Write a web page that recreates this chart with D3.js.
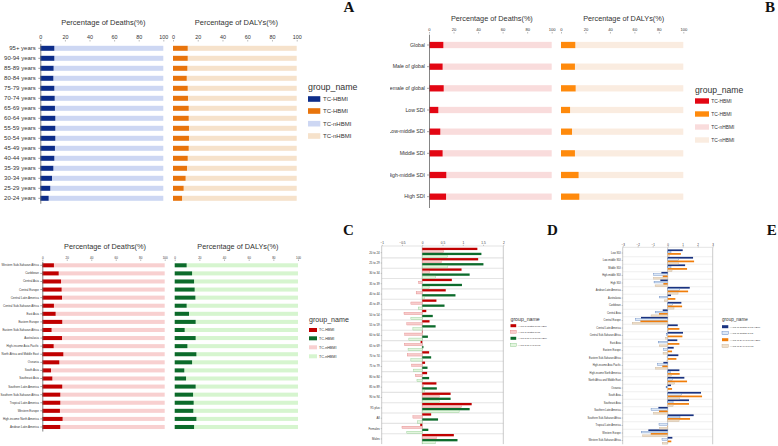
<!DOCTYPE html>
<html><head><meta charset="utf-8">
<script src="https://cdn.jsdelivr.net/npm/d3@7"></script>
<style>
body{margin:0;background:#fff}
svg{display:block}
text{font-family:"Liberation Sans",Arial,sans-serif;fill:#333}
</style>
</head><body>
<svg id="c" width="778" height="446"></svg>
<script>
// ---------- DATA ----------
const pctTicks = [0, 20, 40, 60, 80, 100];
const legendLabels = ["TC-HBMI", "TC-HBMI", "TC-nHBMI", "TC-nHBMI"];

// Panel A: age groups
const ageA = ["95+ years","90-94 years","85-89 years","80-84 years","75-79 years","70-74 years","65-69 years","60-64 years","55-59 years","50-54 years","45-49 years","40-44 years","35-39 years","30-34 years","25-29 years","20-24 years"];
const deathsHBMI_A = [11.4,11.4,10.8,10.6,11.4,11.7,11.9,12.2,12.2,12.2,11.9,11.4,10.6,9.5,8.1,6.8];
const dalysHBMI_A  = [11.9,11.9,11.6,11.1,11.9,12.1,12.7,12.7,12.9,12.9,12.7,11.9,11.3,10.2,8.6,7.3];

// Panel B: global / SDI
const groupsB = ["Global","Male of global","Female of global","Low SDI","Low-middle SDI","Middle SDI","High-middle SDI","High SDI"];
const deathsHBMI_B = [11.7,11.1,12.0,7.6,9.2,11.1,14.1,13.9];
const dalysHBMI_B  = [11.7,11.4,12.0,7.4,9.0,11.4,14.4,15.0];

// Panel C: GBD regions
const regionsC = ["Western Sub-Saharan Africa","Caribbean","Central Asia","Central Europe","Central Latin America","Central Sub-Saharan Africa","East Asia","Eastern Europe","Eastern Sub-Saharan Africa","Australasia","High-income Asia Pacific","North Africa and Middle East","Oceania","South Asia","Southeast Asia","Southern Latin America","Southern Sub-Saharan Africa","Tropical Latin America","Western Europe","High-income North America","Andean Latin America"];
const deathsHBMI_C = [9.5,13.4,15.3,15.8,16.1,9.5,10.9,16.3,7.6,16.1,9.3,17.2,13.9,7.1,8.2,16.3,14.7,14.7,14.4,16.6,14.7];
const dalysHBMI_C  = [9.7,14.1,15.7,16.2,16.8,9.7,11.6,17.0,8.1,17.0,10.3,17.6,14.1,7.8,9.2,17.0,14.9,15.4,15.1,17.6,15.7];

// Panel D: AAPC by age / sex
const ageD = ["20 to 24","25 to 29","30 to 34","35 to 39","40 to 44","45 to 49","50 to 54","55 to 59","60 to 64","65 to 69","70 to 74","75 to 79","80 to 84","85 to 89","90 to 94","95 plus","All","Females","Males"];
const aapcTicksD = [-1, -0.5, 0, 0.5, 1, 1.5, 2];
const aapcDeathsHBMI_D = [1.36,1.38,0.97,0.73,0.58,0.35,0.10,0.18,0.01,-0.04,0.17,0.07,0.12,0.35,0.70,1.22,0.22,-0.05,0.78];
const aapcDeathsTC_D   = [0.53,0.47,0.18,-0.09,-0.15,-0.28,-0.45,-0.38,-0.43,-0.44,-0.37,-0.26,-0.17,0.03,0.42,0.97,-0.23,-0.50,0.35];
const aapcDalysHBMI_D  = [1.46,1.51,1.17,0.98,0.82,0.55,0.26,0.33,0.14,0.03,0.22,0.13,0.17,0.36,0.70,1.17,0.39,0.15,0.87];
const aapcDalysTC_D    = [0.62,0.62,0.33,0.17,0.05,-0.10,-0.28,-0.23,-0.33,-0.35,-0.28,-0.21,-0.13,0.05,0.42,0.91,-0.12,-0.38,0.32];
const legendD = ["AAPC of deaths of TC-HBMI","AAPC of deaths of TC","AAPC of DALYs of TC-HBMI","AAPC of DALYs of TC"];

// Panel E: AAPC by SDI / region
const regionsE = ["Low SDI","Low-middle SDI","Middle SDI","High-middle SDI","High SDI","Andean Latin America","Australasia","Caribbean","Central Asia","Central Europe","Central Latin America","Central Sub-Saharan Africa","East Asia","Eastern Europe","Eastern Sub-Saharan Africa","High-income Asia Pacific","High-income North America","North Africa and Middle East","Oceania","South Asia","Southeast Asia","Southern Latin America","Southern Sub-Saharan Africa","Tropical Latin America","Western Europe","Western Sub-Saharan Africa"];
const aapcTicksE = [-3, -2, -1, 0, 1, 2, 3];
const aapcDeathsHBMI_E = [1.00,1.69,1.16,-0.42,-0.49,1.47,0.22,0.91,-0.33,-1.78,0.67,1.02,0.64,0.40,0.71,-0.29,0.78,1.11,0.22,2.22,1.42,-0.62,1.73,0.00,-1.29,0.31];
const aapcDeathsTC_E   = [0.22,0.73,0.22,-0.93,-0.91,0.80,-0.53,0.33,-0.80,-2.16,0.02,-0.09,-0.62,-0.27,-0.04,-0.67,0.20,0.31,-0.11,0.91,0.36,-1.11,0.82,-0.58,-1.76,-0.38];
const aapcDalysHBMI_E  = [0.88,1.76,1.29,-0.33,-0.29,1.36,0.51,0.96,-0.58,-1.82,0.78,0.98,0.78,0.29,0.58,-0.36,0.80,1.29,0.29,2.29,1.42,-0.58,1.49,-0.02,-1.13,0.24];
const aapcDalysTC_E    = [0.10,0.73,0.29,-0.93,-0.84,0.69,-0.22,0.42,-1.11,-2.36,0.03,-0.13,-0.56,-0.31,-0.05,-0.80,0.24,0.47,-0.04,0.80,0.36,-0.93,0.76,-0.53,-1.67,-0.36];
const legendE = ["AAPC of deaths of TC-HBMI","AAPC of deaths of TC","AAPC of DALYs of TC-HBMI","AAPC of DALYs of TC"];

// ---------- DRAWING ----------
const svg = d3.select("#c");
svg.append("defs").append("clipPath").attr("id","clipB")
  .append("rect").attr("x",390).attr("y",0).attr("width",388).attr("height",240);

function pctPanel(g, o) {
  const y = d3.scaleBand().domain(o.cats).range(o.yRange)
    .paddingInner(o.pad).paddingOuter(o.pad / 2);
  const panels = [
    {vals: o.deaths, x: d3.scaleLinear().domain([0,100]).range(o.xD), dark: o.colors[0], light: o.colors[2], title: "Percentage of Deaths(%)"},
    {vals: o.dalys,  x: d3.scaleLinear().domain([0,100]).range(o.xL), dark: o.colors[1], light: o.colors[3], title: "Percentage of DALYs(%)"}
  ];
  panels.forEach((p, k) => {
    const rows = o.cats.map((c, i) => ({c, v: p.vals[i]}));
    g.selectAll(null).data(rows).enter().append("rect")
      .attr("x", d => p.x(d.v)).attr("y", d => y(d.c))
      .attr("width", d => p.x(100) - p.x(d.v)).attr("height", y.bandwidth())
      .attr("fill", p.light);
    g.selectAll(null).data(rows).enter().append("rect")
      .attr("x", p.x(0)).attr("y", d => y(d.c))
      .attr("width", d => p.x(d.v) - p.x(0)).attr("height", y.bandwidth())
      .attr("fill", p.dark);
    const ax = g.append("g").attr("transform", `translate(0,${o.axisY})`)
      .call(d3.axisTop(p.x).tickValues(pctTicks).tickSize(1.5).tickPadding(o.tickPad));
    ax.select(".domain").remove();
    ax.selectAll("line").attr("stroke", "#777").attr("stroke-width", 0.5);
    ax.selectAll("text").attr("font-size", o.tickFont).attr("fill", "#444")
      .style("font-family", "'Liberation Sans',Arial,sans-serif");
    g.append("text").attr("x", (p.x(0) + p.x(100)) / 2 + o.titleDx).attr("y", o.titleY)
      .attr("text-anchor", "middle").attr("font-size", o.titleFont).attr("fill", "#333").text(p.title);
  });
  const ay = g.append("g").attr("transform", `translate(${o.xD[0]},0)`)
    .call(d3.axisLeft(y).tickSize(2).tickSizeOuter(0).tickPadding(o.labPad));
  ay.select(".domain").attr("stroke", "#666").attr("stroke-width", 0.8);
  ay.selectAll("line").attr("stroke", "#666").attr("stroke-width", 0.6);
  ay.selectAll("text").attr("font-size", o.catFont).attr("fill", "#333")
    .style("font-family", "'Liberation Sans',Arial,sans-serif");
  // legend
  const L = o.legend;
  g.append("text").attr("x", L.x).attr("y", L.titleY).attr("dy", "0.35em")
    .attr("font-size", L.titleFont).attr("fill", "#333").text("group_name");
  const order = [0, 1, 2, 3];
  g.selectAll(null).data(order).enter().append("rect")
    .attr("x", L.x).attr("y", i => L.itemY[i] - L.sh / 2).attr("width", L.sw).attr("height", L.sh)
    .attr("fill", i => o.colors[i]);
  g.selectAll(null).data(order).enter().append("text")
    .attr("x", L.x + L.sw + L.gap).attr("y", i => L.itemY[i]).attr("dy", "0.35em")
    .attr("font-size", L.itemFont).attr("fill", "#444").text(i => legendLabels[i]);
}

function aapcPanel(g, o) {
  const y = d3.scaleBand().domain(o.cats).range(o.yRange);
  const inner = d3.scaleBand().domain([0,1,2,3]).range([0, y.bandwidth()])
    .paddingInner(o.innerPad).paddingOuter(o.outerPad);
  const x = d3.scaleLinear().domain(o.domain).range(o.xRange);
  // row separators
  g.selectAll(null).data(o.cats.slice(1)).enter().append("line")
    .attr("x1", x(o.domain[0])).attr("x2", x(o.domain[1]))
    .attr("y1", c => y(c)).attr("y2", c => y(c))
    .attr("stroke", "#e4e4e4").attr("stroke-width", o.sepW);
  // frame lines
  [o.domain[0], 0, o.domain[1]].forEach(v => {
    g.append("line").attr("x1", x(v)).attr("x2", x(v))
      .attr("y1", o.frameTop).attr("y2", o.yRange[1])
      .attr("stroke", "#b5b5b5").attr("stroke-width", 0.7);
  });
  g.append("line").attr("x1", x(o.domain[0])).attr("x2", x(o.domain[1]))
    .attr("y1", o.frameTop).attr("y2", o.frameTop)
    .attr("stroke", "#d0d0d0").attr("stroke-width", 0.6);
  // bars
  o.series.forEach((s, k) => {
    const rows = o.cats.map((c, i) => ({c, v: s.vals[i]}));
    g.selectAll(null).data(rows).enter().append("rect")
      .attr("x", d => Math.min(x(0), x(d.v))).attr("y", d => y(d.c) + inner(k))
      .attr("width", d => Math.abs(x(d.v) - x(0))).attr("height", inner.bandwidth())
      .attr("fill", s.fill).attr("stroke", s.stroke || "none").attr("stroke-width", s.stroke ? 0.35 : 0);
  });
  // top axis
  const ax = g.append("g").attr("transform", `translate(0,${o.frameTop})`)
    .call(d3.axisTop(x).tickValues(o.ticks).tickSize(1.2).tickPadding(0.6).tickFormat(d3.format("")));
  ax.select(".domain").remove();
  ax.selectAll("line").attr("stroke", "#777").attr("stroke-width", 0.4);
  ax.selectAll("text").attr("font-size", o.tickFont).attr("fill", "#444")
    .style("font-family", "'Liberation Sans',Arial,sans-serif");
  // left labels
  const ay = g.append("g").attr("transform", `translate(${x(o.domain[0])},0)`)
    .call(d3.axisLeft(y).tickSize(1).tickSizeOuter(0).tickPadding(o.labPad));
  ay.select(".domain").remove();
  ay.selectAll("line").attr("stroke", "#777").attr("stroke-width", 0.4);
  ay.selectAll("text").attr("font-size", o.catFont).attr("fill", "#333")
    .style("font-family", "'Liberation Sans',Arial,sans-serif");
  // legend
  const L = o.legend;
  g.append("text").attr("x", L.x).attr("y", L.titleY).attr("dy", "0.35em")
    .attr("font-size", L.titleFont).attr("fill", "#333").text("group_name");
  g.selectAll(null).data(o.series).enter().append("rect")
    .attr("x", L.x).attr("y", (s, i) => L.itemY[i] - L.sh / 2).attr("width", L.sw).attr("height", L.sh)
    .attr("fill", s => s.fill).attr("stroke", s => s.stroke || "none").attr("stroke-width", 0.4);
  g.selectAll(null).data(o.series).enter().append("text")
    .attr("x", L.x + L.sw + L.gap).attr("y", (s, i) => L.itemY[i]).attr("dy", "0.35em")
    .attr("font-size", L.itemFont).attr("fill", "#444").text((s, i) => o.labels[i]);
}

// Panel A
pctPanel(svg.append("g"), {
  cats: ageA, deaths: deathsHBMI_A, dalys: dalysHBMI_A,
  yRange: [43.3, 203.3], pad: 0.5, xD: [40.3, 163.3], xL: [173, 296.7],
  colors: ["#0d2d8a", "#e8740c", "#cdd7f3", "#f6e2cb"],
  axisY: 41.5, tickPad: 1.2, tickFont: 5.4, titleY: 25.3, titleFont: 7.5, titleDx: 1.5,
  catFont: 6, labPad: 2.5,
  legend: {x: 308, titleY: 86.7, titleFont: 8.8, itemY: [99, 111, 123.7, 136], sw: 12.3, sh: 5.6, gap: 2.7, itemFont: 6}
});

// Panel B
pctPanel(svg.append("g").attr("clip-path", "url(#clipB)"), {
  cats: groupsB, deaths: deathsHBMI_B, dalys: dalysHBMI_B,
  yRange: [34.17, 207.5], pad: 0.71, xD: [429, 551.7], xL: [561, 683.3],
  colors: ["#e30613", "#ff8a0c", "#f9dcdc", "#faece0"],
  axisY: 33.5, tickPad: 1, tickFont: 4.1, titleY: 20.8, titleFont: 7.3, titleDx: 1.5,
  catFont: 5.2, labPad: 2,
  legend: {x: 695, titleY: 90, titleFont: 8.6, itemY: [101, 114, 127, 140], sw: 14, sh: 5.4, gap: 2.3, itemFont: 4.9}
});

// Panel C
pctPanel(svg.append("g"), {
  cats: regionsC, deaths: deathsHBMI_C, dalys: dalysHBMI_C,
  yRange: [261.26, 431.04], pad: 0.5, xD: [42.3, 164.7], xL: [174.7, 298],
  colors: ["#c00000", "#0c6b2a", "#f8d0d0", "#d6f5cf"],
  axisY: 261, tickPad: 0.9, tickFont: 3, titleY: 249.3, titleFont: 7.3, titleDx: 1.5,
  catFont: 2.95, labPad: 1.5,
  legend: {x: 309, titleY: 319.7, titleFont: 7.1, itemY: [330, 338.3, 347.3, 356.3], sw: 8, sh: 4, gap: 2, itemFont: 3.7}
});

// Panel D
aapcPanel(svg.append("g"), {
  cats: ageD, domain: [-1, 2], xRange: [381.7, 503.3], yRange: [247.5, 444.1],
  ticks: aapcTicksD, frameTop: 246, innerPad: 0.08, outerPad: 0.1, sepW: 1.1,
  tickFont: 3.2, catFont: 2.9, labPad: 1,
  series: [
    {vals: aapcDeathsHBMI_D, fill: "#c00000"},
    {vals: aapcDeathsTC_D, fill: "#f7cccc", stroke: "#e07a7a"},
    {vals: aapcDalysHBMI_D, fill: "#0d6b2c"},
    {vals: aapcDalysTC_D, fill: "#e3f6df", stroke: "#7cc27c"}
  ],
  labels: legendD,
  legend: {x: 510.5, titleY: 319, titleFont: 5.2, itemY: [325.7, 331.7, 338.3, 345], sw: 5.7, sh: 3, gap: 1.5, itemFont: 2.3}
});

// Panel E
aapcPanel(svg.append("g"), {
  cats: regionsE, domain: [-3, 3], xRange: [622.7, 712.7], yRange: [249.25, 444.25],
  ticks: aapcTicksE, frameTop: 247.3, innerPad: 0.06, outerPad: 0.08, sepW: 0.6,
  tickFont: 3, catFont: 2.55, labPad: 1,
  series: [
    {vals: aapcDeathsHBMI_E, fill: "#1a3380"},
    {vals: aapcDeathsTC_E, fill: "#dce8f6", stroke: "#4a74b8"},
    {vals: aapcDalysHBMI_E, fill: "#f07d0a"},
    {vals: aapcDalysTC_E, fill: "#efdfca", stroke: "#c0a888"}
  ],
  labels: legendE,
  legend: {x: 722, titleY: 319.3, titleFont: 4.6, itemY: [326.7, 333.3, 339.7, 346], sw: 6.3, sh: 3, gap: 1.5, itemFont: 2.4}
});

// Panel letters
const letters = [["A", 349, 6.7], ["B", 770, 6.7], ["C", 348.3, 229.3], ["D", 552.3, 229.3], ["E", 771.7, 229.3]];
svg.selectAll(null).data(letters).enter().append("text")
  .attr("x", d => d[1]).attr("y", d => d[2]).attr("dy", "0.35em")
  .attr("text-anchor", "middle").attr("font-size", 15).attr("font-weight", "bold")
  .style("font-family", "'Liberation Serif','Times New Roman',serif").style("fill", "#111")
  .text(d => d[0]);
</script>
</body></html>
